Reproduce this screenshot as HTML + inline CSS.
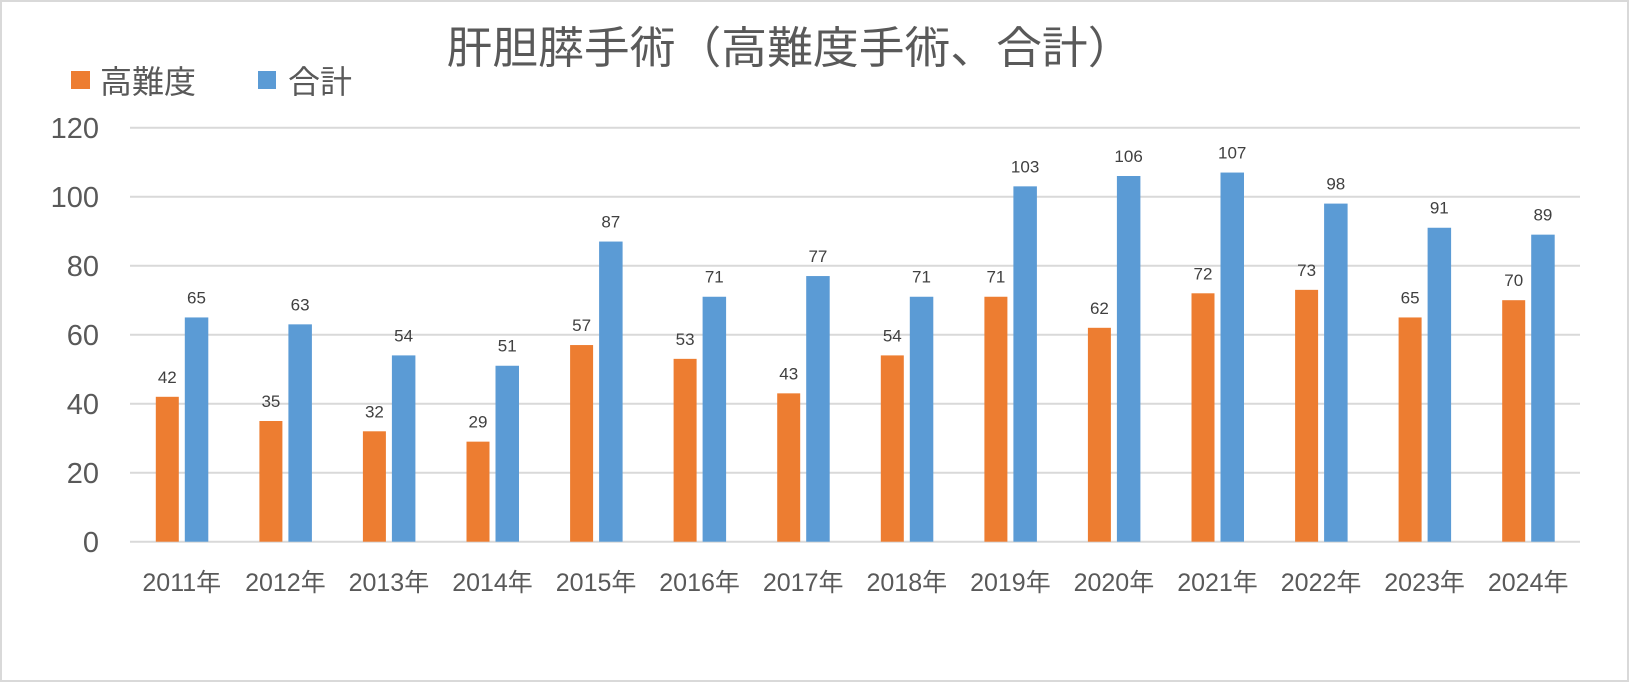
<!DOCTYPE html>
<html><head><meta charset="utf-8"><style>
html,body{margin:0;padding:0;background:#fff;}
svg{display:block;}
text{font-family:"Liberation Sans","Noto Sans CJK JP",sans-serif;}
</style></head><body>
<svg width="1630" height="684" viewBox="0 0 1630 684" xmlns="http://www.w3.org/2000/svg">
<rect x="1" y="1" width="1627" height="680" fill="#fff" stroke="#D9D9D9" stroke-width="2"/>
<text x="790" y="63" font-size="44" fill="#595959" text-anchor="middle" textLength="687" lengthAdjust="spacingAndGlyphs">肝胆膵手術（高難度手術、合計）</text>
<rect x="71" y="71" width="19" height="18" fill="#ED7D31"/>
<text x="100" y="93" font-size="32" fill="#595959">高難度</text>
<rect x="258" y="71" width="18" height="18" fill="#5B9BD5"/>
<text x="288" y="93" font-size="32" fill="#595959">合計</text>
<g stroke="#D9D9D9" stroke-width="2">
<line x1="130" x2="1580" y1="127.7" y2="127.7"/>
<line x1="130" x2="1580" y1="196.7" y2="196.7"/>
<line x1="130" x2="1580" y1="265.7" y2="265.7"/>
<line x1="130" x2="1580" y1="334.7" y2="334.7"/>
<line x1="130" x2="1580" y1="403.7" y2="403.7"/>
<line x1="130" x2="1580" y1="472.7" y2="472.7"/>
<line x1="130" x2="1580" y1="541.7" y2="541.7"/>
</g>
<g font-size="29" fill="#595959" text-anchor="end">
<text x="99" y="138">120</text>
<text x="99" y="207">100</text>
<text x="99" y="276">80</text>
<text x="99" y="345">60</text>
<text x="99" y="414">40</text>
<text x="99" y="483">20</text>
<text x="99" y="552">0</text>
</g>
<g fill="#ED7D31">
<rect x="155.8" y="396.8" width="23" height="144.9"/>
<rect x="259.4" y="421.0" width="23" height="120.7"/>
<rect x="362.9" y="431.3" width="23" height="110.4"/>
<rect x="466.5" y="441.65" width="23" height="100.05"/>
<rect x="570.1" y="345.05" width="23" height="196.65"/>
<rect x="673.6" y="358.85" width="23" height="182.85"/>
<rect x="777.2" y="393.35" width="23" height="148.35"/>
<rect x="880.8" y="355.4" width="23" height="186.3"/>
<rect x="984.4" y="296.75" width="23" height="244.95"/>
<rect x="1087.9" y="327.8" width="23" height="213.9"/>
<rect x="1191.5" y="293.3" width="23" height="248.4"/>
<rect x="1295.1" y="289.85" width="23" height="251.85"/>
<rect x="1398.6" y="317.45" width="23" height="224.25"/>
<rect x="1502.2" y="300.2" width="23" height="241.5"/>
</g>
<g fill="#5B9BD5">
<rect x="184.8" y="317.45" width="23.5" height="224.25"/>
<rect x="288.4" y="324.35" width="23.5" height="217.35"/>
<rect x="391.9" y="355.4" width="23.5" height="186.3"/>
<rect x="495.5" y="365.75" width="23.5" height="175.95"/>
<rect x="599.1" y="241.55" width="23.5" height="300.15"/>
<rect x="702.6" y="296.75" width="23.5" height="244.95"/>
<rect x="806.2" y="276.05" width="23.5" height="265.65"/>
<rect x="909.8" y="296.75" width="23.5" height="244.95"/>
<rect x="1013.4" y="186.35" width="23.5" height="355.35"/>
<rect x="1116.9" y="176.0" width="23.5" height="365.7"/>
<rect x="1220.5" y="172.55" width="23.5" height="369.15"/>
<rect x="1324.1" y="203.6" width="23.5" height="338.1"/>
<rect x="1427.6" y="227.75" width="23.5" height="313.95"/>
<rect x="1531.2" y="234.65" width="23.5" height="307.05"/>
</g>
<g font-size="17" fill="#404040" text-anchor="middle">
<text x="167.3" y="382.8">42</text>
<text x="270.9" y="407.0">35</text>
<text x="374.4" y="417.3">32</text>
<text x="478.0" y="427.6">29</text>
<text x="581.6" y="331.0">57</text>
<text x="685.1" y="344.8">53</text>
<text x="788.7" y="379.3">43</text>
<text x="892.3" y="341.4">54</text>
<text x="995.9" y="282.7">71</text>
<text x="1099.4" y="313.8">62</text>
<text x="1203.0" y="279.3">72</text>
<text x="1306.6" y="275.8">73</text>
<text x="1410.1" y="303.4">65</text>
<text x="1513.7" y="286.2">70</text>
<text x="196.5" y="303.4">65</text>
<text x="300.1" y="310.3">63</text>
<text x="403.6" y="341.4">54</text>
<text x="507.2" y="351.7">51</text>
<text x="610.8" y="227.5">87</text>
<text x="714.3" y="282.7">71</text>
<text x="817.9" y="262.0">77</text>
<text x="921.5" y="282.7">71</text>
<text x="1025.1" y="172.3">103</text>
<text x="1128.6" y="162.0">106</text>
<text x="1232.2" y="158.5">107</text>
<text x="1335.8" y="189.6">98</text>
<text x="1439.3" y="213.7">91</text>
<text x="1542.9" y="220.6">89</text>
</g>
<g font-size="25" fill="#595959" text-anchor="middle">
<text x="181.8" y="591">2011年</text>
<text x="285.4" y="591">2012年</text>
<text x="388.9" y="591">2013年</text>
<text x="492.5" y="591">2014年</text>
<text x="596.1" y="591">2015年</text>
<text x="699.6" y="591">2016年</text>
<text x="803.2" y="591">2017年</text>
<text x="906.8" y="591">2018年</text>
<text x="1010.4" y="591">2019年</text>
<text x="1113.9" y="591">2020年</text>
<text x="1217.5" y="591">2021年</text>
<text x="1321.1" y="591">2022年</text>
<text x="1424.6" y="591">2023年</text>
<text x="1528.2" y="591">2024年</text>
</g>
</svg>
</body></html>
